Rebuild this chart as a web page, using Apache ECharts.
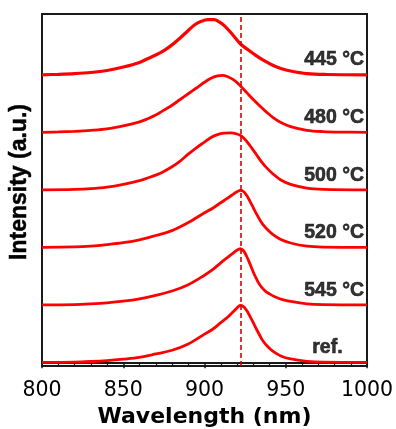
<!DOCTYPE html>
<html>
<head>
<meta charset="utf-8">
<script src="https://cdn.jsdelivr.net/npm/echarts@6/dist/echarts.min.js"></script>
<style>
  html, body { margin: 0; padding: 0; background: #fff; }
  #chart { width: 396px; height: 429px; }
</style>
</head>
<body>
<div id="chart"></div>
<script>
// labels, top spectrum first
const sampleNames = ['445 °C', '480 °C', '500 °C', '520 °C', '545 °C', 'ref.'];

// wavelength (nm) and normalised PL intensity
const wl445 = [800, 810, 820, 830, 840, 850, 860, 865, 870, 875, 880, 885, 890, 894, 898, 902, 906, 909, 912, 916, 919, 922, 927, 932, 937, 942, 947, 953, 963, 975, 1000];
const int445 = [0, 0.008, 0.02, 0.04, 0.075, 0.135, 0.215, 0.28, 0.345, 0.42, 0.52, 0.64, 0.77, 0.87, 0.93, 0.96, 0.96, 0.92, 0.86, 0.74, 0.64, 0.54, 0.43, 0.33, 0.24, 0.165, 0.11, 0.065, 0.02, 0.005, 0];

const wl480 = [800, 810, 820, 830, 840, 850, 860, 865, 870, 875, 880, 885, 890, 895, 900, 904, 908, 911, 914, 918, 922, 926, 930, 934, 938, 942, 947, 953, 963, 973, 985, 1000];
const int480 = [0, 0.006, 0.017, 0.033, 0.058, 0.11, 0.18, 0.235, 0.3, 0.385, 0.47, 0.57, 0.67, 0.77, 0.87, 0.94, 0.98, 0.99, 0.97, 0.91, 0.81, 0.69, 0.57, 0.46, 0.355, 0.26, 0.17, 0.1, 0.035, 0.012, 0.003, 0];

const wl500 = [800, 820, 830, 840, 850, 860, 865, 870, 875, 880, 885, 890, 895, 900, 904, 908, 912, 916, 920, 923, 926, 929, 932, 935, 938, 942, 947, 953, 963, 973, 1000];
const int500 = [0, 0.008, 0.02, 0.046, 0.095, 0.16, 0.205, 0.255, 0.32, 0.4, 0.5, 0.62, 0.73, 0.83, 0.91, 0.96, 0.985, 0.99, 0.97, 0.93, 0.84, 0.73, 0.61, 0.49, 0.39, 0.28, 0.17, 0.095, 0.03, 0.008, 0];

const wl520 = [800, 820, 830, 840, 850, 860, 870, 880, 890, 900, 905, 910, 914, 917, 920, 922, 924, 926, 928, 930, 932, 934, 936, 939, 942, 947, 953, 963, 973, 1000];
const int520 = [0, 0.006, 0.02, 0.046, 0.08, 0.13, 0.205, 0.29, 0.43, 0.6, 0.68, 0.775, 0.85, 0.91, 0.965, 0.99, 0.97, 0.9, 0.8, 0.69, 0.58, 0.48, 0.395, 0.3, 0.225, 0.135, 0.075, 0.02, 0.004, 0];

const wl545 = [800, 820, 830, 840, 850, 860, 870, 880, 890, 900, 905, 910, 914, 917, 920, 922, 924, 926, 928, 930, 932, 934, 937, 940, 944, 948, 953, 963, 973, 1000];
const int545 = [0, 0.005, 0.017, 0.035, 0.063, 0.104, 0.165, 0.24, 0.35, 0.515, 0.61, 0.73, 0.82, 0.885, 0.95, 0.975, 0.94, 0.84, 0.71, 0.57, 0.45, 0.35, 0.25, 0.19, 0.13, 0.09, 0.058, 0.018, 0.004, 0];

const wlRef = [800, 820, 830, 840, 850, 860, 870, 880, 890, 900, 905, 910, 914, 917, 920, 922, 924, 926, 928, 930, 932, 934, 936, 939, 942, 947, 953, 963, 973, 1000];
const intRef = [0, 0.004, 0.014, 0.03, 0.055, 0.087, 0.145, 0.21, 0.32, 0.49, 0.575, 0.69, 0.78, 0.86, 0.945, 0.99, 0.97, 0.9, 0.8, 0.69, 0.575, 0.47, 0.37, 0.27, 0.195, 0.11, 0.058, 0.018, 0.004, 0];

// reference peak position (dashed line)
const refPeak = 922;

const xTicks = { min: 800, max: 1000, step: 50 };

const spectra = [
  [wl445, int445], [wl480, int480], [wl500, int500],
  [wl520, int520], [wl545, int545], [wlRef, intRef]
];

const chart = echarts.init(document.getElementById('chart'));

const labelFont = "'Liberation Sans', Arial, sans-serif";
const n = spectra.length;
const series = spectra.map(([wl, inten], i) => {
  const offset = n - 1 - i;
  const s = {
    name: sampleNames[i],
    type: 'line',
    data: wl.map((w, j) => [w, offset + inten[j]]),
    showSymbol: false,
    smooth: 0.35,
    lineStyle: { color: '#ff0000', width: i === 0 ? 3.2 : 2.8 },
    silent: true,
    z: 3
  };
  if (i === n - 1) {
    s.markLine = {
      silent: true,
      symbol: 'none',
      label: { show: false },
      lineStyle: { color: '#d40000', width: 1.6, type: [5, 3] },
      data: [{ xAxis: refPeak }]
    };
  }
  return s;
});

// sample labels at the right edge, just above each baseline
series.push({
  type: 'scatter',
  symbolSize: 0,
  silent: true,
  data: sampleNames.map((name, i) => ({
    value: [name === 'ref.' ? 985 : 998.2, n - 1 - i + 0.255],
    name: name
  })),
  label: {
    show: true,
    position: 'left',
    distance: 0,
    formatter: p => p.name,
    fontFamily: labelFont,
    fontWeight: 'bold',
    fontSize: 19.5,
    color: '#000',
    textBorderColor: '#000',
    textBorderWidth: 0.6
  },
  z: 5
});

const option = {
  animation: false,
  grid: {
    left: 42, right: 29, top: 14, bottom: 63,
    show: true, borderColor: '#1a1a1a', borderWidth: 2,
    outerBoundsMode: 'none'
  },
  xAxis: {
    type: 'value',
    min: xTicks.min,
    max: xTicks.max,
    interval: xTicks.step,
    axisLine: { show: true, lineStyle: { color: '#1a1a1a', width: 2 } },
    axisTick: { show: true, inside: false, length: 6, lineStyle: { color: '#1a1a1a', width: 1.5 } },
    minorTick: { show: true, splitNumber: 5, length: 4, lineStyle: { color: '#1a1a1a', width: 1.2 } },
    splitLine: { show: false },
    axisLabel: {
      margin: 14,
      formatter: v => String(v),
      fontFamily: "'DejaVu Sans', sans-serif",
      fontSize: 20.5,
      color: '#000'
    },
    name: 'Wavelength (nm)',
    nameLocation: 'middle',
    nameGap: 38,
    nameTextStyle: {
      fontFamily: "'DejaVu Sans', sans-serif",
      fontWeight: 'bold',
      fontSize: 22,
      color: '#000',
      verticalAlign: 'top'
    }
  },
  yAxis: {
    type: 'value',
    min: -0.064,
    max: 6.057,
    axisLine: { show: true, lineStyle: { color: '#1a1a1a', width: 2 } },
    axisTick: { show: false },
    axisLabel: { show: false },
    splitLine: { show: false },
    name: 'Intensity (a.u.)',
    nameLocation: 'middle',
    nameGap: 11,
    nameTextStyle: {
      fontFamily: labelFont,
      fontWeight: 'bold',
      fontSize: 23,
      color: '#000',
      textBorderColor: '#000',
      textBorderWidth: 0.5,
      padding: [0, 0, 0, 16]
    }
  },
  series: series
};

chart.setOption(option);
</script>
</body>
</html>
